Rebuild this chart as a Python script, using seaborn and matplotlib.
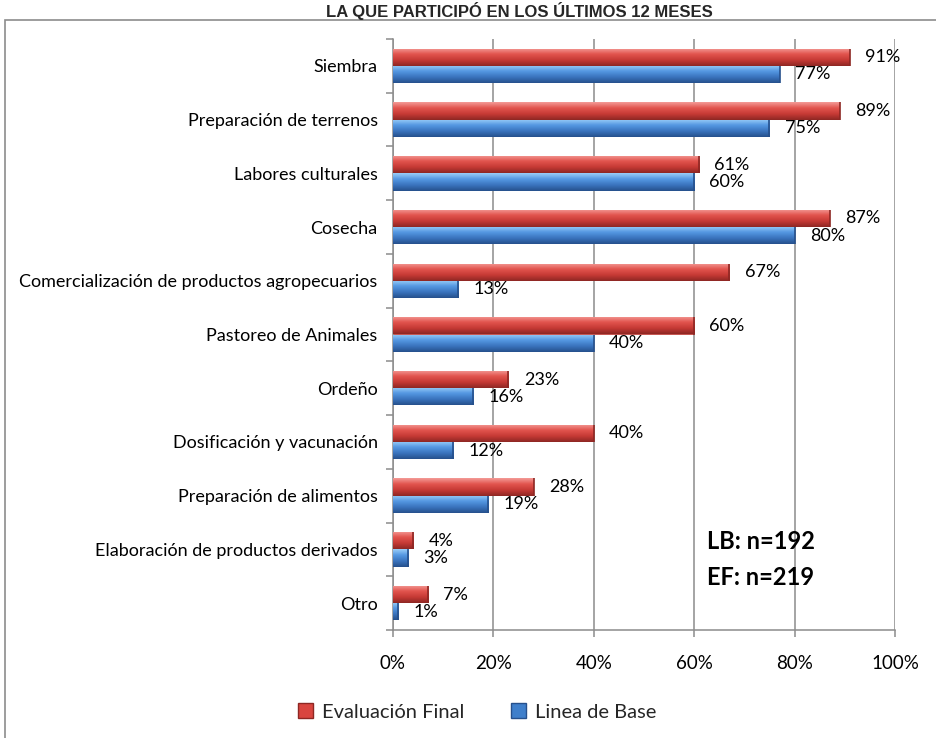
import numpy as np
import pandas as pd
import matplotlib
matplotlib.use("Agg")
import matplotlib.pyplot as plt
from matplotlib.patches import Patch, Rectangle
from matplotlib.colors import LinearSegmentedColormap
import seaborn as sns

# ---- data -------------------------------------------------------------
activities = [
    "Siembra",
    "Preparación de terrenos",
    "Labores culturales",
    "Cosecha",
    "Comercialización de productos agropecuarios",
    "Pastoreo de Animales",
    "Ordeño",
    "Dosificación y vacunación",
    "Preparación de alimentos",
    "Elaboración de productos derivados",
    "Otro",
]
evaluacion_final = [91, 89, 61, 87, 67, 60, 23, 40, 28, 4, 7]
linea_base = [77, 75, 60, 80, 13, 40, 16, 12, 19, 3, 1]
series_names = ["Evaluación Final", "Linea de Base"]
x_ticks = [0, 20, 40, 60, 80, 100]
title = "LA QUE PARTICIPÓ EN LOS ÚLTIMOS 12 MESES"
sample_notes = ["LB: n=192", "EF: n=219"]

df = pd.DataFrame({
    "Actividad": activities * 2,
    "Serie": [series_names[0]] * len(activities) + [series_names[1]] * len(activities),
    "Porcentaje": evaluacion_final + linea_base,
})

# ---- style ------------------------------------------------------------
sns.set_theme(style="white")
plt.rcParams["font.family"] = ["Lato", "DejaVu Sans"]

red = "#D9453F"
blue = "#3F7FCB"
shades = {
    series_names[0]: ["#F49A96", "#E2544E", "#C63A35", "#8E2723"],
    series_names[1]: ["#9ACDF8", "#5598E2", "#3A74BE", "#26508C"],
}
ink = "#000000"

fig = plt.figure(figsize=(9.37, 7.38), dpi=100)
ax = fig.add_axes([393 / 937, 1 - 630 / 738, 502 / 937, 591 / 738])

sns.barplot(
    data=df, y="Actividad", x="Porcentaje", hue="Serie",
    hue_order=series_names, order=activities,
    palette=[red, blue], orient="h", width=0.64, dodge=True,
    linewidth=0, legend=False, ax=ax,
)

# bevel-like shading on each bar
n = len(activities)
for i, patch in enumerate(ax.patches[: 2 * n]):
    serie = series_names[0] if i < n else series_names[1]
    cmap = LinearSegmentedColormap.from_list("bev", shades[serie])
    x0, y0 = patch.get_x(), patch.get_y()
    w, h = patch.get_width(), patch.get_height()
    grad = np.linspace(0, 1, 64).reshape(-1, 1)
    im = ax.imshow(grad, cmap=cmap, aspect="auto", origin="upper",
                   extent=(x0, x0 + w, y0 + h, y0), zorder=3,
                   interpolation="bilinear")
    im.set_clip_path(patch)
    patch.set_zorder(2)
    # darker rim at the right end of the bar
    ax.plot([x0 + w, x0 + w], [y0, y0 + h], color=shades[serie][-1],
            lw=1.2, zorder=4, solid_capstyle="butt")

ax.set_xlim(0, 100)
ax.set_ylim(n - 0.5, -0.5)

# value labels next to the bar ends
for i in range(n):
    ax.annotate(f"{evaluacion_final[i]}%", (evaluacion_final[i], i - 0.16),
                xytext=(11, 0), textcoords="offset points",
                ha="left", va="center", fontsize=13, color=ink, zorder=5)
    ax.annotate(f"{linea_base[i]}%", (linea_base[i], i + 0.16),
                xytext=(11, 0), textcoords="offset points",
                ha="left", va="center", fontsize=13, color=ink, zorder=5)

# axes cosmetics
ax.set_xticks(x_ticks)
ax.set_xticklabels([f"{t}%" for t in x_ticks], fontsize=13.5)
ax.grid(axis="x", color="#8C8C8C", lw=1.1, zorder=0)
ax.set_axisbelow(True)
ax.set_xlabel("")
ax.set_ylabel("")
for s in ["top", "right"]:
    ax.spines[s].set_visible(False)
for s in ["left", "bottom"]:
    ax.spines[s].set_color("#8C8C8C")
    ax.spines[s].set_linewidth(1.1)
ax.tick_params(axis="y", length=0, pad=11, labelsize=13, labelcolor=ink)
ax.tick_params(axis="x", length=5, width=1.1, color="#8C8C8C", direction="out",
               pad=13, labelcolor=ink, bottom=True)
ax.set_yticks(np.arange(-0.5, n, 1.0), minor=True)
ax.tick_params(axis="y", which="minor", length=5, width=1.1, color="#8C8C8C",
               direction="out", left=True)

# sample sizes
ax.text(62.6, 8.85, sample_notes[0], fontsize=17, fontweight="bold",
        color=ink, ha="left", va="center", zorder=6)
ax.text(62.6, 9.52, sample_notes[1], fontsize=17, fontweight="bold",
        color=ink, ha="left", va="center", zorder=6)

# legend
handles = [
    Patch(facecolor=red, edgecolor="#8E2723", label=series_names[0]),
    Patch(facecolor=blue, edgecolor="#26508C", label=series_names[1]),
]
fig.legend(handles=handles, loc="center", bbox_to_anchor=(477 / 937, 1 - 712 / 738),
           ncol=2, frameon=False, fontsize=14.5, handlelength=0.75, handleheight=0.75,
           handletextpad=0.45, columnspacing=2.3)

# outer frame and heading
fig.patches.append(Rectangle((5 / 937, -0.2), 1.2, 1 - 20 / 738 + 0.2,
                             transform=fig.transFigure, fill=False,
                             edgecolor="#8C8C8C", lw=1.2, zorder=0))
fig.text(519 / 937, 1 - 17.5 / 738, title, ha="center", va="baseline",
         fontsize=12, fontweight="bold", family=["Liberation Sans", "DejaVu Sans"])

fig.savefig("out.png", dpi=100)
